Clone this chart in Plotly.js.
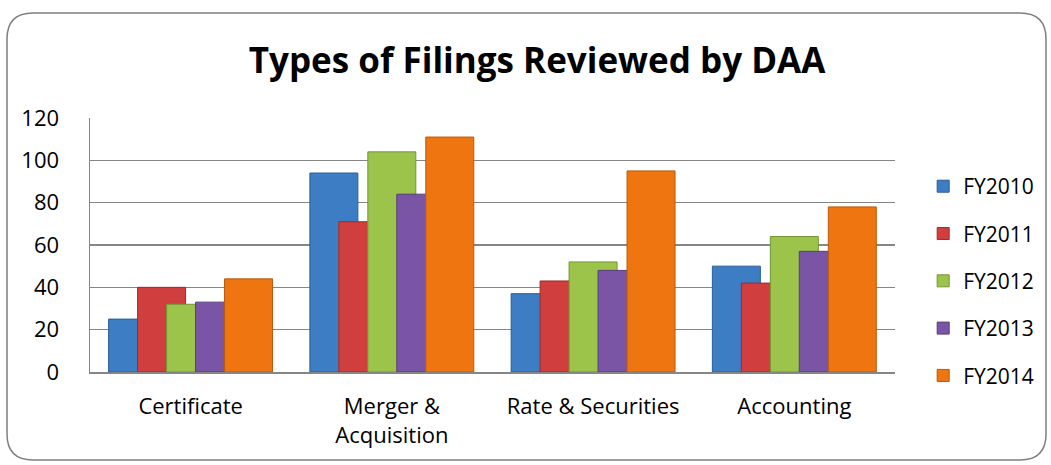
<!DOCTYPE html>
<html>
<head>
<meta charset="utf-8">
<script src="https://cdn.plot.ly/plotly-3.0.1.min.js"></script>
<style>
html,body{margin:0;padding:0;background:#fff;}
#chart{width:1051px;height:465px;}
</style>
</head>
<body>
<div id="chart"></div>
<script>
const categories = ["Certificate", "Merger &<br>Acquisition", "Rate & Securities", "Accounting"];
const seriesNames = ["FY2010", "FY2011", "FY2012", "FY2013", "FY2014"];
const fy2010 = [25, 94, 37, 50];
const fy2011 = [40, 71, 43, 42];
const fy2012 = [32, 104, 52, 64];
const fy2013 = [33, 84, 48, 57];
const fy2014 = [44, 111, 95, 78];
const yTicks = [0, 20, 40, 60, 80, 100, 120];

const seriesValues = [fy2010, fy2011, fy2012, fy2013, fy2014];
const colors = ["#3C7DC4", "#D03E3E", "#9CC44B", "#7A55A5", "#EF7511"];
const edges = ["#2A5E99", "#9E2B2B", "#73952F", "#573C7C", "#B85A0A"];

const barW = 0.2385, step = 0.144, start = -0.4075;

const traces = seriesValues.map((vals, i) => ({
  type: "bar",
  name: seriesNames[i],
  x: categories,
  y: vals,
  width: vals.map(() => barW),
  offset: vals.map(() => start + i * step),
  marker: {color: colors[i], line: {color: edges[i], width: 1}},
  legendgroup: "g" + i,
  hoverinfo: "x+y+name"
}));

const font = "'Open Sans', 'Noto Sans', sans-serif";

const layout = {
  width: 1051, height: 465,
  paper_bgcolor: "#fff", plot_bgcolor: "#fff",
  margin: {l: 90, r: 156, t: 118, b: 93},
  barmode: "overlay",
  title: {text: "<b>Types of Filings Reviewed by DAA</b>", x: 0.511, xanchor: "center", y: 0.87, yanchor: "middle",
          font: {family: font, size: 35, color: "#000"}},
  xaxis: {
    type: "category",
    showgrid: false,
    showline: true, linecolor: "#868686", linewidth: 1.5,
    ticks: "",
    tickfont: {family: font, size: 22, color: "#000"},
    ticklabelstandoff: 14,
    range: [-0.5, 3.5]
  },
  yaxis: {
    range: [0, 120],
    tickvals: yTicks,
    ticktext: yTicks.map(String),
    showgrid: true, gridcolor: "#868686", gridwidth: 1.5,
    showline: true, linecolor: "#868686", linewidth: 1.5,
    zeroline: false,
    ticks: "", ticklen: 0,
    tickfont: {family: font, size: 22, color: "#000"},
    ticklabelstandoff: 25
  },
  legend: {
    x: 1.035, xanchor: "left", y: 0.358, yanchor: "middle",
    font: {family: font, size: 21, color: "#000"},
    tracegroupgap: 17,
    itemwidth: 30,
    bgcolor: "rgba(0,0,0,0)"
  },
  shapes: [{
    type: "path", xref: "paper", yref: "paper",
    path: "",
    line: {color: "#7F7F7F", width: 1.5}
  }],
  showlegend: true
};

// rounded chart border in pixel terms converted to paper coords
(function(){
  const pw = 1051 - 90 - 156, ph = 465 - 118 - 93;
  const px = v => (v - 90) / pw;
  const py = v => (465 - 93 - v) / ph;
  const L = 7, R = 1046, T = 13, B = 460, r = 26;
  layout.shapes[0].path =
    `M ${px(L + r)},${py(T)} L ${px(R - r)},${py(T)} Q ${px(R)},${py(T)} ${px(R)},${py(T + r)} ` +
    `L ${px(R)},${py(B - r)} Q ${px(R)},${py(B)} ${px(R - r)},${py(B)} ` +
    `L ${px(L + r)},${py(B)} Q ${px(L)},${py(B)} ${px(L)},${py(B - r)} ` +
    `L ${px(L)},${py(T + r)} Q ${px(L)},${py(T)} ${px(L + r)},${py(T)} Z`;
})();

Plotly.newPlot("chart", traces, layout, {displayModeBar: false, staticPlot: true});
</script>
</body>
</html>
